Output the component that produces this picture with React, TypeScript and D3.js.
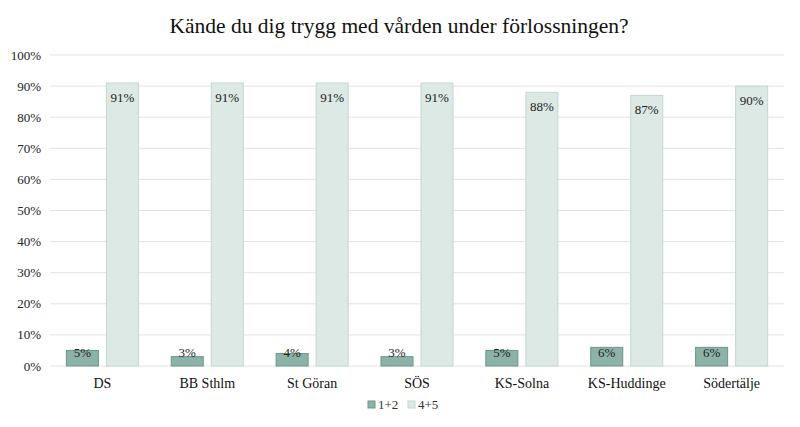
import * as d3 from 'd3';
import React from 'react';

const categories = ['DS', 'BB Sthlm', 'St Göran', 'SÖS', 'KS-Solna', 'KS-Huddinge', 'Södertälje'];
const series = ['1+2', '4+5'];
const low = [5, 3, 4, 3, 5, 6, 6];
const high = [91, 91, 91, 91, 88, 87, 90];
const yTicks = [0, 10, 20, 30, 40, 50, 60, 70, 80, 90, 100];

const fills = ['#8db3a9', '#dce9e5'];
const strokes = ['#6a968b', '#c3d8d1'];

const W = 800;
const H = 427;
const margin = { top: 55, right: 16, bottom: 61, left: 50 };
const font = '"Liberation Serif", "Times New Roman", serif';

const App = () => {
  const innerW = W - margin.left - margin.right;
  const innerH = H - margin.top - margin.bottom;
  const x0 = d3.scaleBand<string>().domain(categories).range([0, innerW]).paddingInner(0.313).paddingOuter(0.156);
  const x1 = d3.scaleBand<string>().domain(series).range([0, x0.bandwidth()]).paddingInner(0.2);
  const y = d3.scaleLinear().domain([0, 100]).range([innerH, 0]);
  const values = [low, high];

  return (
    <svg width={W} height={H} style={{ display: 'block', margin: '-8px', fontFamily: font }}>
      <rect x={0.5} y={0.5} width={W - 1} height={H - 1} fill="#fff" stroke="#d9d9d9" />
      <text x={W / 2 - 1} y={33} textAnchor="middle" fontSize={21.5} fill="#111">
        Kände du dig trygg med vården under förlossningen?
      </text>
      <g transform={`translate(${margin.left},${margin.top})`}>
        {yTicks.map(t => (
          <g key={t}>
            <line x1={0} x2={innerW} y1={y(t)} y2={y(t)} stroke="#e3e3e3" strokeWidth={1} />
            <text x={-9} y={y(t) + 4.5} textAnchor="end" fontSize={13} fill="#222">{t}%</text>
          </g>
        ))}
        {categories.map((c, i) => (
          <g key={c} transform={`translate(${x0(c)},0)`}>
            {series.map((s, j) => {
              const v = values[j][i];
              const top = y(v);
              const bx = x1(s) as number;
              return (
                <g key={s}>
                  <rect x={bx} y={top} width={x1.bandwidth()} height={innerH - top}
                    fill={fills[j]} stroke={strokes[j]} strokeWidth={1} />
                  <text x={bx + x1.bandwidth() / 2} y={Math.min(top + 19, innerH - 9)}
                    textAnchor="middle" fontSize={13} fill="#222">{v}%</text>
                </g>
              );
            })}
            <text x={x0.bandwidth() / 2} y={innerH + 22} textAnchor="middle" fontSize={14} fill="#111">{c}</text>
          </g>
        ))}
      </g>
      <g transform={`translate(${W / 2 - 32},409)`}>
        {series.map((s, j) => (
          <g key={s} transform={`translate(${j * 40},0)`}>
            <rect x={0} y={-8} width={7} height={7} fill={fills[j]} stroke={strokes[j]} />
            <text x={10} y={0} fontSize={13} fill="#333">{s}</text>
          </g>
        ))}
      </g>
    </svg>
  );
};

export default App;
